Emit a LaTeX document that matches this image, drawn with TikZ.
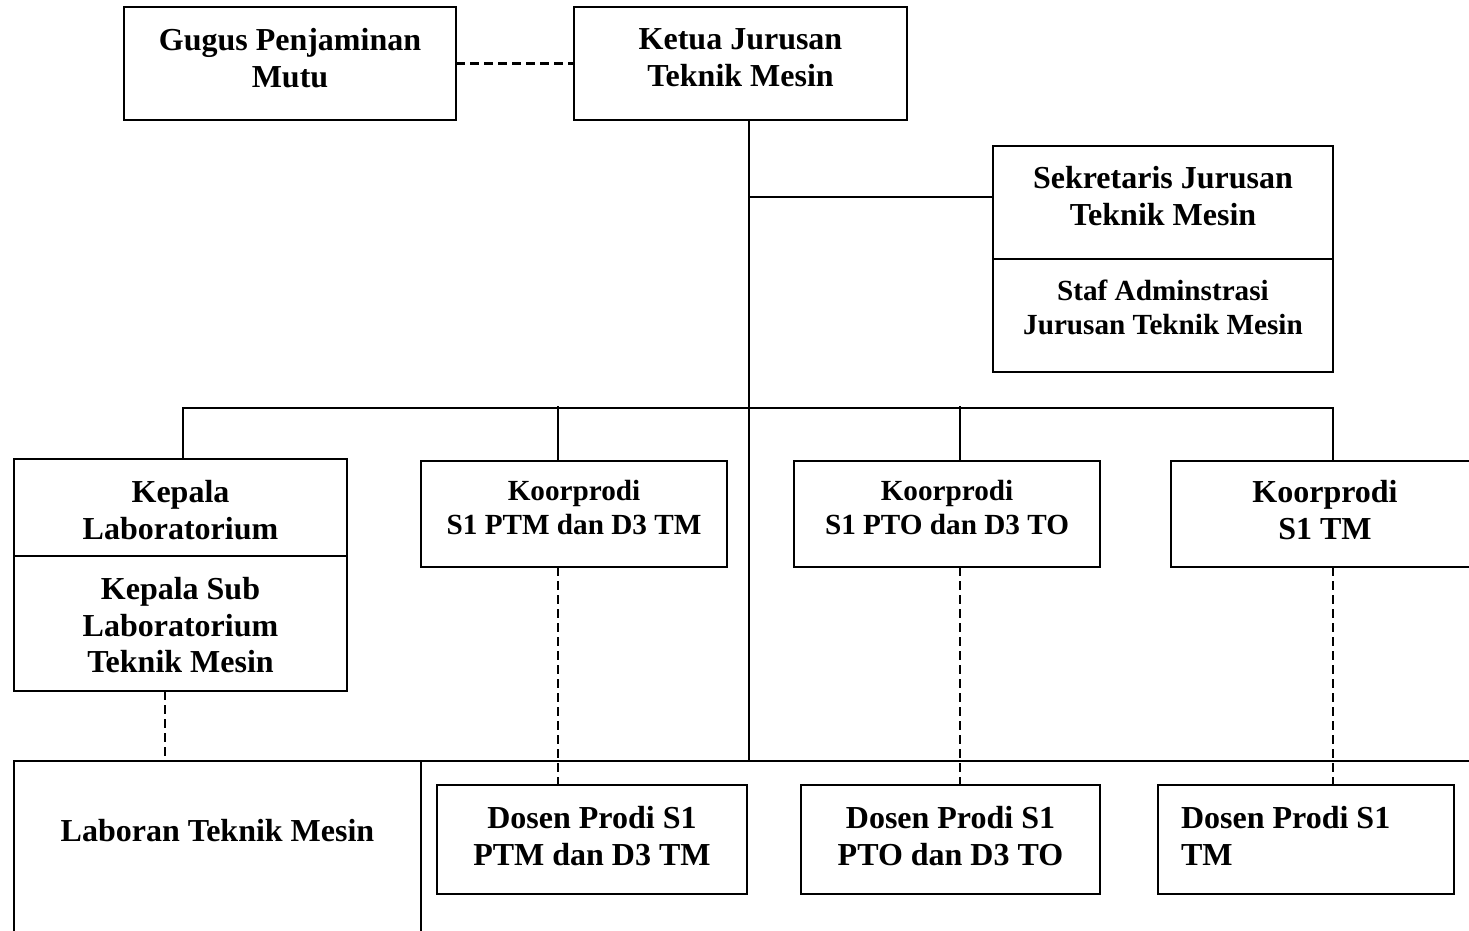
\documentclass[tikz,border=0pt]{standalone}
\usepackage{fontspec}
\setmainfont{Liberation Serif}
\usepackage{tikz}

\begin{document}
\begin{tikzpicture}[x=0.5pt, y=-0.5pt, line width=1.1pt,
  kotak/.style={draw, inner sep=0pt, outer sep=0pt, minimum height=56.5pt},
  teks/.style={font=\bfseries\fontsize{16}{18.25}\selectfont, align=center, inner sep=0pt, anchor=north},
  tekskecil/.style={teks, font=\bfseries\fontsize{14.6}{17}\selectfont},
  putus/.style={dash pattern=on 4.25pt off 2.75pt}]
  \useasboundingbox (0,0) rectangle (1469,931);
  \clip (0,0) rectangle (1469,931);

  \node[kotak, minimum width=166pt] (gugus) at (290,63.5) {};
  \node[kotak, minimum width=166.5pt] (ketua) at (740.5,63.5) {};
  \node[kotak, minimum width=170pt] (sekr) at (1163,202.5) {};
  \node[kotak, minimum width=170pt] (staf) at (1163,315.5) {};
  \node[kotak, minimum width=166.5pt, minimum height=48.5pt] (kepala) at (180.5,507.5) {};
  \node[kotak, minimum width=166.5pt, minimum height=67.5pt] (kasub) at (180.5,623.5) {};
  \node[kotak, minimum width=153pt, minimum height=53pt] (k1) at (574,514) {};
  \node[kotak, minimum width=153pt, minimum height=53pt] (k2) at (947,514) {};
  \node[kotak, minimum width=159.5pt, minimum height=53pt] (k3) at (1330.5,514) {};
  \node[kotak, minimum width=203.5pt, minimum height=119.5pt] (laboran) at (217.5,880.5) {};
  \node[kotak, minimum width=155pt, minimum height=54.5pt] (d1) at (592,839.5) {};
  \node[kotak, minimum width=149.5pt, minimum height=54.5pt] (d2) at (950.5,839.5) {};
  \node[kotak, minimum width=148pt, minimum height=54.5pt] (d3) at (1306,839.5) {};

  \node[teks] (gugusT) at (290,27.5) {Gugus Penjaminan\\Mutu};
  \node[teks] (ketuaT) at (740.5,27.5) {Ketua Jurusan\\Teknik Mesin};
  \node[teks] (sekrT) at (1163,165.5) {Sekretaris Jurusan\\Teknik Mesin};
  \node[tekskecil] (stafT) at (1163,278.5) {Staf Adminstrasi\\Jurusan Teknik Mesin};
  \node[teks] (kepalaT) at (180.5,479.5) {Kepala\\Laboratorium};
  \node[teks] (kasubT) at (180.5,576.5) {Kepala Sub\\Laboratorium\\Teknik Mesin};
  \node[tekskecil] (k1T) at (574,479.5) {Koorprodi\\S1 PTM dan D3 TM};
  \node[tekskecil] (k2T) at (947,479.5) {Koorprodi\\S1 PTO dan D3 TO};
  \node[teks] (k3T) at (1325,479.5) {Koorprodi\\S1 TM};
  \node[teks] (laboranT) at (217.5,818.5) {Laboran Teknik Mesin};
  \node[teks] (d1T) at (592,805.5) {Dosen Prodi S1\\PTM dan D3 TM};
  \node[teks] (d2T) at (950.5,805.5) {Dosen Prodi S1\\PTO dan D3 TO};
  \node[teks, anchor=north west, align=left] (d3T) at (1180,805.5) {Dosen Prodi S1\\TM};

  \coordinate (simpul) at (749,761);
  \coordinate (cSekr) at (749,197);
  \coordinate (palangKi) at (183,408);
  \coordinate (palangKa) at (1333,408);
  \coordinate (cabA) at (558,406);
  \coordinate (cabB) at (960,406);
  \coordinate (garisLab) at (165,761);
  \coordinate (ujung) at (1480,761);

  \draw[putus] (gugus) -- (ketua);
  \draw (ketua.south -| simpul) -- (simpul);
  \draw (cSekr) -- (cSekr -| sekr.west);
  \draw (palangKi |- kepala.north) -- (palangKi) -- (palangKa) -- (palangKa |- k3.north);
  \draw (cabA) -- (cabA |- k1.north);
  \draw (cabB) -- (cabB |- k2.north);
  \draw (laboran.north east) -- (ujung);
  \draw[putus] (kasub.south -| garisLab) -- (garisLab);
  \foreach \a/\b/\c in {k1/d1/cabA, k2/d2/cabB, k3/d3/palangKa}
    \draw[putus] (\a.south -| \c) -- (\b.north -| \c);
\end{tikzpicture}
\end{document}
